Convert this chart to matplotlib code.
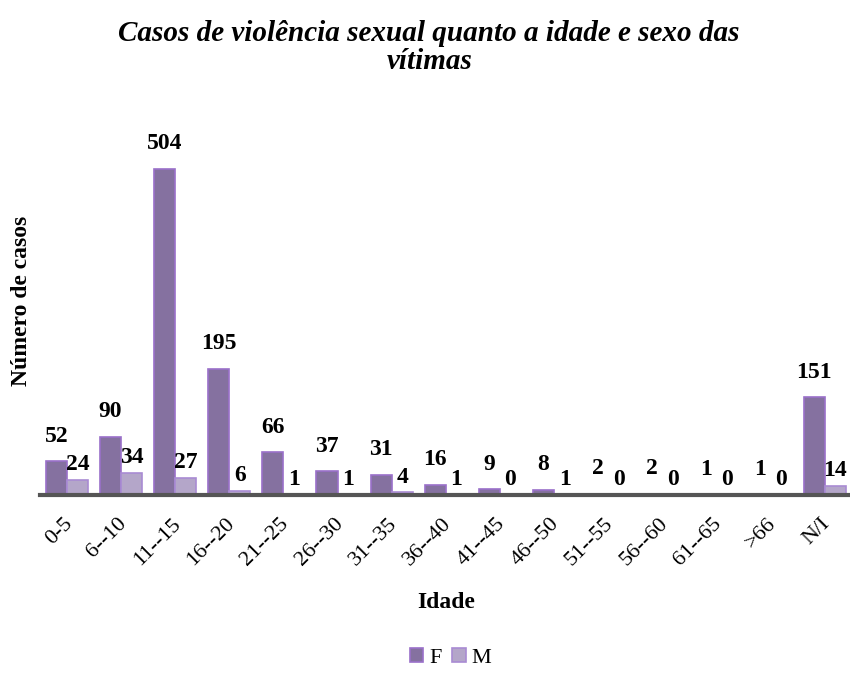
import matplotlib
matplotlib.use("Agg")
import matplotlib.pyplot as plt
import matplotlib.transforms as mtrans
import numpy as np

categories = ["0-5", "6--10", "11--15", "16--20", "21--25", "26--30", "31--35",
              "36--40", "41--45", "46--50", "51--55", "56--60", "61--65", ">66", "N/I"]
female = [52, 90, 504, 195, 66, 37, 31, 16, 9, 8, 2, 2, 1, 1, 151]
male = [24, 34, 27, 6, 1, 1, 4, 1, 0, 1, 0, 0, 0, 0, 14]

plt.rcParams['font.family'] = ['Liberation Serif', 'DejaVu Serif']

fig = plt.figure(figsize=(8.5, 6.8), dpi=100)
ax = fig.add_axes([0.047, 0.272, 0.955, 0.57])

x = np.arange(len(categories))
w = 0.39
f_col = "#8571A0"
f_edge = "#9A70C9"
m_col = "#B4A6C9"
m_edge = "#A98BD3"

ax.bar(x - w / 2, female, w, color=f_col, edgecolor=f_edge, linewidth=1.2, label="F")
ax.bar(x + w / 2, male, w, color=m_col, edgecolor=m_edge, linewidth=1.2, label="M")

for xi, v in zip(x, female):
    ax.annotate(str(v), (xi - w / 2, v), xytext=(0, 18), textcoords="offset points",
                ha="center", va="center", fontsize=17, fontweight="bold")
for xi, v in zip(x, male):
    ax.annotate(str(v), (xi + w / 2, v), xytext=(0, 11), textcoords="offset points",
                ha="center", va="center", fontsize=17, fontweight="bold")

ax.set_xlim(-0.5, len(categories) - 0.5)
ax.set_ylim(0, 599)
for s in ["top", "right", "left"]:
    ax.spines[s].set_visible(False)
ax.spines["bottom"].set_color("#555555")
ax.spines["bottom"].set_linewidth(3)
ax.set_yticks([])
ax.set_xticks(x)
ax.set_xticklabels(categories, rotation=45, ha="right", rotation_mode="anchor", fontsize=16)
ax.tick_params(axis="x", length=0, pad=14)
shift = mtrans.ScaledTranslation(-4 / 100, 0, fig.dpi_scale_trans)
for lab in ax.get_xticklabels():
    lab.set_transform(lab.get_transform() + shift)

ax.set_xlabel("Idade", fontsize=17, fontweight="bold", labelpad=16)
ax.set_ylabel("Número de casos", fontsize=17, fontweight="bold", labelpad=6)

fig.suptitle("Casos de violência sexual quanto a idade e sexo das\nvítimas",
             fontsize=21, fontweight="bold", fontstyle="italic", x=0.505, y=0.97,
             linespacing=1.05)

leg = fig.legend(loc="lower center", bbox_to_anchor=(0.53, -0.012), ncol=2, frameon=False,
                 fontsize=16, handlelength=0.6, handleheight=0.6, handletextpad=0.25,
                 columnspacing=0.5)

fig.savefig("out.png", dpi=100)
